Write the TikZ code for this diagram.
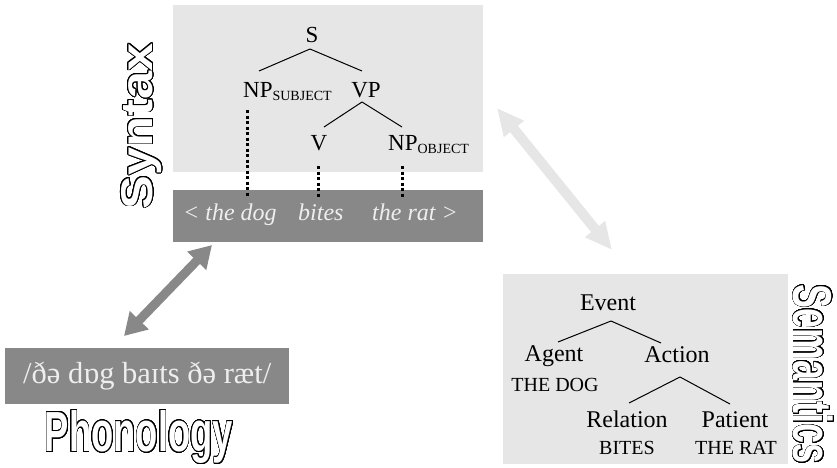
\documentclass[tikz,border=0pt]{standalone}
\usepackage{fontspec}
\setmainfont{Liberation Serif}
\newfontfamily\heavysans{Liberation Sans}
\usepackage[copies]{contour}
\contourlength{0.8pt}
\contournumber{32}
\usetikzlibrary{arrows.meta,calc}

\definecolor{panel}{HTML}{E6E6E6}
\definecolor{band}{HTML}{888888}
\definecolor{bandtext}{HTML}{EEEEEE}

% hollow heading lettering: white letters ringed in black
\newcommand\hollow[2]{{\heavysans\bfseries\fontsize{#1}{#1}\selectfont\color{white}\contour{black}{#2}}}
% small-capital role subscript
\newcommand\role[1]{\raisebox{-3pt}{\fontsize{14}{14}\selectfont #1}}

\tikzset{
  panelbox/.style={fill=panel, inner sep=0pt, anchor=north west},
  bandbox/.style={fill=band, inner sep=0pt, anchor=north west},
  tree/.style={font=\fontsize{23}{23}\selectfont, inner sep=0pt},
  sem/.style={font=\fontsize{24}{24}\selectfont, inner sep=0pt},
  gloss/.style={font=\fontsize{20}{20}\selectfont, inner sep=0pt},
  word/.style={font=\fontsize{24}{24}\selectfont\itshape, text=bandtext, inner sep=0pt, anchor=base west},
  branch/.style={line width=1pt},
  trace/.style={line width=3pt, dash pattern=on 3pt off 2.5pt},
  darklink/.style={draw=band, line width=9pt,
    {Triangle[length=22pt,width=25pt]}-{Triangle[length=22pt,width=25pt]}},
  lightlink/.style={draw=panel, line width=10pt,
    {Triangle[length=27pt,width=24pt]}-{Triangle[length=27pt,width=24pt]}},
}

\begin{document}
\begin{tikzpicture}[x=1pt,y=-1pt]
\useasboundingbox (0,0) rectangle (837,467);

% panels
\node[panelbox, minimum width=310pt, minimum height=167pt] (synpanel) at (173,5) {};
\node[bandbox, minimum width=310pt, minimum height=52pt] (surface) at (173,190) {};
\node[bandbox, minimum width=284pt, minimum height=56pt,
      font=\fontsize{30.5}{30.5}\selectfont, text=bandtext] (phon) at (5,348) {/ðə dɒg baɪts ðə ræt/};
\node[panelbox, minimum width=285pt, minimum height=190pt] (sempanel) at (503,274) {};

% headings
\node[inner sep=0pt, rotate=90] (synhead) at (142,126) {\resizebox*{166pt}{41pt}{\hollow{50}{Syntax}}};
\node[inner sep=0pt, rotate=-90] (semhead) at (813,374) {\resizebox*{180pt}{41pt}{\hollow{56}{Semantics}}};
\node[inner sep=0pt] (phonhead) at (139,437.5) {\resizebox*{188pt}{54pt}{\hollow{44}{Phonology}}};

% syntactic tree
\node[tree, anchor=base] (S) at (312,42) {S};
\node[tree, anchor=base west] (NPs) at (243,97) {NP\role{SUBJECT}};
\node[tree, anchor=base] (VP) at (366,97) {VP};
\node[tree, anchor=base] (V) at (319,150) {V};
\node[tree, anchor=base west] (NPo) at (388,150) {NP\role{OBJECT}};

\draw[branch] ($(S.base)+(-2,7)$) -- ($(NPs.base west)+(16,-26)$);
\draw[branch] ($(S.base)+(-2,7)$) -- ($(VP.base)+(-4,-26)$);
\draw[branch] ($(VP.base)+(-4,5)$) -- ($(V.base)+(5,-23)$);
\draw[branch] ($(VP.base)+(-4,5)$) -- ($(NPo.base west)+(14,-23)$);

% surface string
\node[word] (dog) at (183,220) {< the dog};
\node[word] (bites) at (298,220) {bites};
\node[word] (rat) at (372,220) {the rat >};

% traces down to the string
\draw[trace] ($(NPs.base west)+(4,13)$) -- ($(NPs.base west)+(4,100)$);
\draw[trace] ($(V.base)+(-1,16)$) -- ($(V.base)+(-1,47)$);
\draw[trace] ($(NPo.base west)+(14,16)$) -- ($(NPo.base west)+(14,47)$);

% semantic tree
\node[sem, anchor=base] (event) at (608,310) {Event};
\node[sem, anchor=base] (agent) at (554,361) {Agent};
\node[gloss, anchor=base] (agentg) at (555,391) {THE DOG};
\node[sem, anchor=base] (action) at (677,362) {Action};
\node[sem, anchor=base] (relation) at (627,427) {Relation};
\node[gloss, anchor=base] (relationg) at (627,454) {BITES};
\node[sem, anchor=base] (patient) at (735,427) {Patient};
\node[gloss, anchor=base] (patientg) at (736,454) {THE RAT};

\draw[branch] ($(event.base)+(3,11)$) -- ($(agent.base)+(4,-19)$);
\draw[branch] ($(event.base)+(3,11)$) -- ($(action.base)+(-16,-19)$);
\draw[branch] ($(action.base)+(3,15)$) -- ($(relation.base)+(2,-24)$);
\draw[branch] ($(action.base)+(3,15)$) -- ($(patient.base)+(-5,-23)$);

% links between the levels
\coordinate (phontip) at (124,336);
\coordinate (surftip) at (212,245);
\coordinate (syntip) at (497,108);
\coordinate (semtip) at (612,250);
\draw[darklink] (phontip) -- (surftip);
\draw[lightlink] (syntip) -- (semtip);
\end{tikzpicture}
\end{document}
